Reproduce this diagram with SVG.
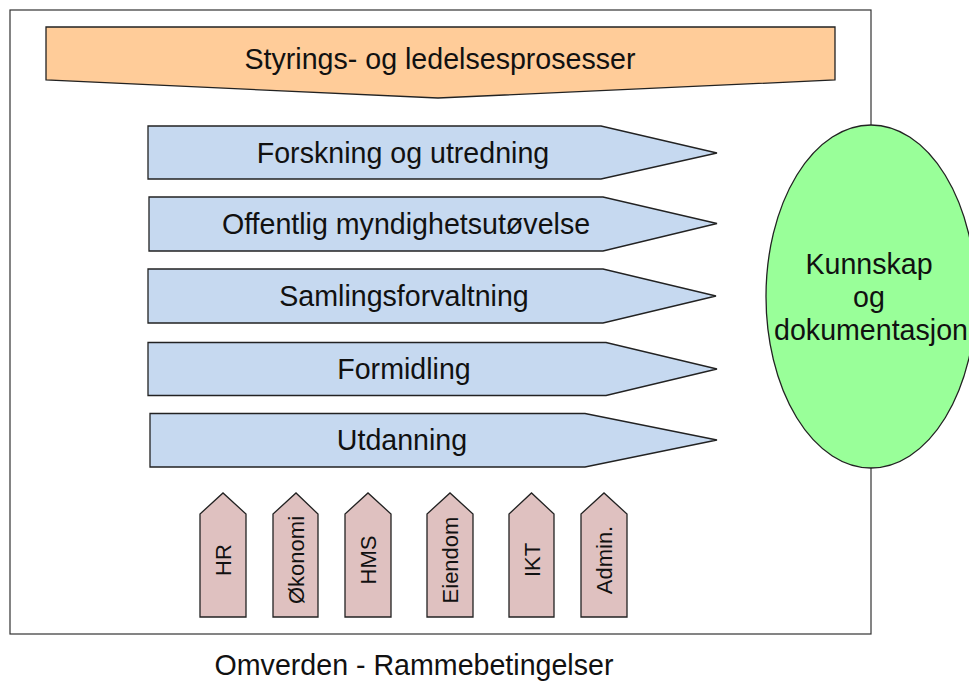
<svg xmlns="http://www.w3.org/2000/svg" width="969" height="681" viewBox="0 0 969 681">
  <style>
    text { font-family: "Liberation Sans", Arial, sans-serif; font-size: 28.6px; fill: #111; text-anchor: middle; }
    .shape { stroke: #222; stroke-width: 1.3; stroke-linejoin: miter; }
    .mgmt { fill: #FFCC99; }
    .core { fill: #C6D9F0; }
    .support { fill: #DFC1C0; }
    .support-label { font-size: 22px; }
    .knowledge { fill: #99FF99; }
    .frame { fill: #ffffff; stroke: #333; stroke-width: 1.2; }
  </style>

  <rect width="969" height="681" fill="#ffffff"/>

  <!-- Environment frame -->
  <g id="omverden">
    <rect class="frame" x="10" y="10" width="861" height="624"/>
    <text x="414" y="675">Omverden - Rammebetingelser</text>
  </g>

  <!-- Management processes (top chevron) -->
  <g id="styring">
    <polygon class="shape mgmt" points="46,27 835,27 835,80 438,98 46,80"/>
    <text x="440" y="69">Styrings- og ledelsesprosesser</text>
  </g>

  <!-- Core processes -->
  <g id="forskning">
    <polygon class="shape core" points="148,126 601,126 717,153 601,179 148,179"/>
    <text x="403" y="163">Forskning og utredning</text>
  </g>
  <g id="myndighet">
    <polygon class="shape core" points="149,197 603,197 717,223.5 603,251 149,251"/>
    <text x="406" y="234">Offentlig myndighetsutøvelse</text>
  </g>
  <g id="samling">
    <polygon class="shape core" points="148,269 603,269 716,296 603,323 148,323"/>
    <text x="404" y="306">Samlingsforvaltning</text>
  </g>
  <g id="formidling">
    <polygon class="shape core" points="148,342.5 606,342.5 717,369 606,395.5 148,395.5"/>
    <text x="404" y="379">Formidling</text>
  </g>
  <g id="utdanning">
    <polygon class="shape core" points="150,413.5 585,413.5 717,440 585,467 150,467"/>
    <text x="402" y="450">Utdanning</text>
  </g>

  <!-- Support functions (upward arrows) -->
  <g id="hr">
    <polygon class="shape support" points="200,617 200,514 223,493 246,514 246,617"/>
    <text class="support-label" transform="translate(223,560) rotate(-90)" y="8">HR</text>
  </g>
  <g id="okonomi">
    <polygon class="shape support" points="273,617 273,514 296,493 318,514 318,617"/>
    <text class="support-label" transform="translate(296,560) rotate(-90)" y="8">Økonomi</text>
  </g>
  <g id="hms">
    <polygon class="shape support" points="345,617 345,514 368,493 391,514 391,617"/>
    <text class="support-label" transform="translate(368,560) rotate(-90)" y="8">HMS</text>
  </g>
  <g id="eiendom">
    <polygon class="shape support" points="427,617 427,514 450,493 473,514 473,617"/>
    <text class="support-label" transform="translate(450,560) rotate(-90)" y="8">Eiendom</text>
  </g>
  <g id="ikt">
    <polygon class="shape support" points="509,617 509,514 531.5,493 554,514 554,617"/>
    <text class="support-label" transform="translate(531.5,560) rotate(-90)" y="8">IKT</text>
  </g>
  <g id="admin">
    <polygon class="shape support" points="581,617 581,514 604,493 627,514 627,617"/>
    <text class="support-label" transform="translate(604,560) rotate(-90)" y="8">Admin.</text>
  </g>

  <!-- Knowledge and documentation -->
  <g id="kunnskap">
    <ellipse class="shape knowledge" cx="871" cy="296.5" rx="105" ry="171.5"/>
    <text x="869" y="274">Kunnskap</text>
    <text x="869" y="307">og</text>
    <text x="871" y="340">dokumentasjon</text>
  </g>

  <g id="connectors"/>
</svg>
